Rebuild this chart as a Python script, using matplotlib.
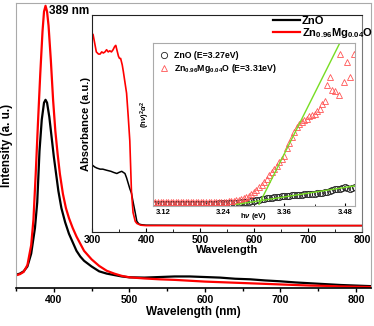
import matplotlib
matplotlib.use('Agg')
import matplotlib.pyplot as plt
from matplotlib.ticker import MultipleLocator

plt.rcParams['font.family'] = ['Liberation Sans', 'DejaVu Sans']
plt.rcParams['font.weight'] = 'bold'
plt.rcParams['mathtext.fontset'] = 'custom'
plt.rcParams['mathtext.rm'] = 'Liberation Sans:bold'
plt.rcParams['mathtext.bf'] = 'Liberation Sans:bold'
plt.rcParams['mathtext.it'] = 'Liberation Sans:bold:italic'

# PL spectra (main)
pl_zno_nm = [350, 355, 360, 365, 370, 375, 378, 381, 384, 387, 389, 391, 394, 397, 400, 403,
             406, 410, 415, 420, 425, 430, 435, 440, 450, 460, 470, 480, 490, 500, 520, 540,
             560, 580, 600, 620, 640, 660, 680, 700, 720, 740, 760, 780, 800, 820]
pl_zno = [0.046, 0.050, 0.058, 0.075, 0.12, 0.21, 0.30, 0.48, 0.59, 0.65, 0.66, 0.65, 0.60,
          0.53, 0.46, 0.40, 0.34, 0.28, 0.23, 0.19, 0.16, 0.13, 0.11, 0.095, 0.075, 0.058,
          0.050, 0.045, 0.040, 0.037, 0.036, 0.038, 0.040, 0.040, 0.038, 0.036, 0.032, 0.030,
          0.026, 0.023, 0.019, 0.016, 0.013, 0.010, 0.008, 0.006]
pl_mg_nm = [350, 355, 360, 365, 370, 373, 376, 379, 382, 385, 387, 389, 391, 393, 396, 399,
            402, 405, 408, 412, 416, 420, 425, 430, 435, 440, 445, 450, 460, 470, 480, 490,
            500, 520, 540, 560, 580, 600, 620, 640, 660, 680, 700, 720, 740, 760, 780, 800, 820]
pl_mg = [0.044, 0.048, 0.056, 0.08, 0.15, 0.24, 0.40, 0.58, 0.75, 0.90, 0.97, 0.99, 0.97,
         0.92, 0.80, 0.66, 0.55, 0.47, 0.40, 0.33, 0.28, 0.245, 0.21, 0.18, 0.155, 0.13,
         0.115, 0.10, 0.077, 0.060, 0.050, 0.042, 0.037, 0.033, 0.030, 0.028, 0.025, 0.022,
         0.020, 0.018, 0.016, 0.014, 0.012, 0.010, 0.008, 0.007, 0.005, 0.004, 0.003]

# absorbance (inset)
abs_zno_nm = [300, 305, 309, 315, 320, 327, 335, 340, 346, 350, 355, 358, 361, 364, 367, 370,
              373, 376, 380, 383, 387, 392, 400, 500, 600, 700, 800]
abs_zno = [0.31, 0.30, 0.295, 0.29, 0.29, 0.285, 0.28, 0.275, 0.27, 0.275, 0.28, 0.275, 0.27,
           0.25, 0.225, 0.20, 0.18, 0.14, 0.09, 0.05, 0.037, 0.034, 0.032, 0.031, 0.030, 0.030, 0.030]
abs_mg_nm = [300, 302, 305, 308, 312, 315, 318, 321, 324, 327, 330, 333, 336, 339, 342, 344,
             346, 349, 351, 353, 356, 358, 361, 364, 367, 370, 373, 376, 380, 383, 390, 400,
             500, 600, 700, 800]
abs_mg = [0.915, 0.91, 0.87, 0.83, 0.82, 0.82, 0.83, 0.825, 0.83, 0.84, 0.83, 0.835, 0.83,
          0.84, 0.855, 0.86, 0.84, 0.81, 0.80, 0.80, 0.77, 0.74, 0.69, 0.64, 0.535, 0.42,
          0.19, 0.09, 0.05, 0.04, 0.032, 0.03, 0.03, 0.03, 0.03, 0.03]

# Tauc plot (inner inset)
tauc_mg_ev = [3.100, 3.105, 3.110, 3.115, 3.120, 3.125, 3.130, 3.135, 3.140, 3.145, 3.150,
              3.155, 3.160, 3.165, 3.170, 3.175, 3.180, 3.185, 3.190, 3.195, 3.200, 3.205,
              3.210, 3.215, 3.220, 3.225, 3.230, 3.235, 3.240, 3.245, 3.250, 3.255, 3.260,
              3.265, 3.270, 3.275, 3.280, 3.285, 3.290, 3.295, 3.300, 3.305, 3.310, 3.315,
              3.320, 3.325, 3.330, 3.335, 3.340, 3.345, 3.350, 3.355, 3.360, 3.365, 3.370,
              3.375, 3.380, 3.385, 3.390, 3.395, 3.400, 3.405, 3.410, 3.415, 3.420, 3.425,
              3.430, 3.435, 3.440, 3.445, 3.450, 3.455, 3.460, 3.468, 3.470, 3.478, 3.484,
              3.490, 3.498]
tauc_mg = [0.012, 0.012, 0.012, 0.012, 0.012, 0.012, 0.012, 0.012, 0.012, 0.012, 0.012,
           0.012, 0.012, 0.012, 0.012, 0.012, 0.013, 0.013, 0.013, 0.013, 0.013, 0.014,
           0.014, 0.014, 0.014, 0.015, 0.015, 0.016, 0.017, 0.018, 0.020, 0.022, 0.024,
           0.027, 0.030, 0.035, 0.040, 0.047, 0.055, 0.067, 0.080, 0.092, 0.105, 0.122,
           0.140, 0.160, 0.180, 0.200, 0.220, 0.240, 0.260, 0.280, 0.300, 0.350, 0.380,
           0.420, 0.450, 0.480, 0.500, 0.510, 0.520, 0.530, 0.550, 0.555, 0.560, 0.580,
           0.590, 0.620, 0.640, 0.740, 0.790, 0.710, 0.700, 0.680, 0.930, 0.760, 0.880,
           0.790, 0.930]
tauc_zno_ev = [3.100, 3.105, 3.110, 3.115, 3.120, 3.125, 3.130, 3.135, 3.140, 3.145, 3.150,
               3.155, 3.160, 3.165, 3.170, 3.175, 3.180, 3.185, 3.190, 3.195, 3.200, 3.205,
               3.210, 3.215, 3.220, 3.225, 3.230, 3.235, 3.240, 3.245, 3.250, 3.255, 3.260,
               3.265, 3.270, 3.275, 3.280, 3.285, 3.290, 3.295, 3.300, 3.305, 3.310, 3.315,
               3.320, 3.325, 3.330, 3.335, 3.340, 3.345, 3.350, 3.355, 3.360, 3.365, 3.370,
               3.375, 3.380, 3.385, 3.390, 3.395, 3.400, 3.405, 3.410, 3.415, 3.420, 3.425,
               3.430, 3.435, 3.440, 3.445, 3.450, 3.455, 3.460, 3.465, 3.470, 3.475, 3.480,
               3.485, 3.490, 3.495, 3.500]
tauc_zno = [0.004, 0.004, 0.004, 0.004, 0.004, 0.004, 0.004, 0.004, 0.004, 0.004, 0.004,
            0.004, 0.004, 0.004, 0.004, 0.004, 0.004, 0.004, 0.005, 0.005, 0.005, 0.005,
            0.005, 0.005, 0.005, 0.005, 0.006, 0.006, 0.006, 0.007, 0.007, 0.008, 0.009,
            0.010, 0.011, 0.012, 0.014, 0.016, 0.018, 0.020, 0.022, 0.025, 0.028, 0.031,
            0.034, 0.037, 0.040, 0.042, 0.044, 0.046, 0.048, 0.050, 0.052, 0.054, 0.055,
            0.056, 0.058, 0.059, 0.060, 0.061, 0.062, 0.064, 0.066, 0.067, 0.066, 0.068,
            0.070, 0.072, 0.076, 0.080, 0.085, 0.092, 0.098, 0.094, 0.095, 0.100, 0.108,
            0.104, 0.098, 0.103, 0.105]
fit_mg_ev = [3.31, 3.47]
fit_mg = [0.0, 1.0]
fit_zno_ev = [3.265, 3.50]
fit_zno = [0.0, 0.115]

green = '#77dd22'
grey = '#aaaaaa'

fig = plt.figure(figsize=(3.74, 3.26), dpi=100)

# main PL axes
ax = fig.add_axes([0.043, 0.117, 0.949, 0.874])
l1, = ax.plot(pl_zno_nm, pl_zno, color='black', lw=1.6, label='ZnO')
l2, = ax.plot(pl_mg_nm, pl_mg, color='red', lw=1.6, label=r'Zn$_{0.96}$Mg$_{0.04}$O')
ax.set_xlim(350, 820)
ax.set_ylim(0, 1.0)
ax.set_yticks([])
ax.xaxis.set_major_locator(MultipleLocator(100))
ax.xaxis.set_minor_locator(MultipleLocator(50))
ax.tick_params(axis='x', which='major', direction='out', length=3, width=1, labelsize=7.5, pad=2)
ax.tick_params(axis='x', which='minor', direction='out', length=2, width=1)
for s in ['left', 'top', 'right']:
    ax.spines[s].set_color(grey)
ax.spines['bottom'].set_linewidth(1.2)
ax.set_xlabel('Wavelength (nm)', fontsize=8.5, fontweight='bold', labelpad=1)
ax.set_ylabel('Intensity (a. u.)', fontsize=8.5, fontweight='bold', labelpad=2)
ax.text(393, 0.97, '389 nm', fontsize=8.5, fontweight='bold', va='center', ha='left')

# inset absorbance
ia = fig.add_axes([0.246, 0.288, 0.722, 0.666])
ia.plot(abs_zno_nm, abs_zno, color='black', lw=1.1)
ia.plot(abs_mg_nm, abs_mg, color='red', lw=1.2)
ia.set_xlim(300, 800)
ia.set_ylim(0, 1.0)
ia.set_yticks([])
ia.xaxis.set_major_locator(MultipleLocator(100))
ia.xaxis.set_minor_locator(MultipleLocator(50))
ia.tick_params(axis='x', which='major', direction='in', length=3, labelsize=7.5, pad=2)
ia.tick_params(axis='x', which='minor', direction='in', length=2)
for s in ['left', 'top', 'bottom']:
    ia.spines[s].set_color('#222222')
ia.spines['right'].set_color('#777777')
ia.set_xlabel('Wavelength', fontsize=8, fontweight='bold', labelpad=0)
ia.set_ylabel('Absorbance (a.u.)', fontsize=8, fontweight='bold', labelpad=1)
# legend of the PL curves sits on top of the inset
ia.legend(handles=[l1, l2], loc='upper right', bbox_to_anchor=(1.04, 0.997), frameon=False,
          fontsize=8, handlelength=2.4, handletextpad=0.2, labelspacing=0.05,
          borderaxespad=0, borderpad=0)

# inner Tauc plot
it = fig.add_axes([0.409, 0.368, 0.540, 0.500])
it.plot(tauc_zno_ev, tauc_zno, ls='none', marker='o', ms=4.5, mfc='none', mec='#222222',
        mew=0.6, label='ZnO (E=3.27eV)')
it.plot(tauc_mg_ev, tauc_mg, ls='none', marker='^', ms=5, mfc='none', mec='#ff5555',
        mew=0.6, label=r'Zn$_{0.96}$Mg$_{0.04}$O (E=3.31eV)')
it.plot(fit_mg_ev, fit_mg, color=green, lw=1.0)
it.plot(fit_zno_ev, fit_zno, color=green, lw=1.0)
it.set_xlim(3.10, 3.50)
it.set_ylim(-0.01, 1.0)
it.set_yticks([])
it.set_xticks([3.12, 3.24, 3.36, 3.48])
it.set_xticklabels(['3.12', '3.24', '3.36', '3.48'])
it.xaxis.set_minor_locator(MultipleLocator(0.06))
it.tick_params(axis='x', which='major', direction='in', length=2.5, labelsize=5.5, pad=2)
it.tick_params(axis='x', which='minor', direction='in', length=1.5)
for s in it.spines.values():
    s.set_color(grey)
it.text(0.5, -0.065, r'h$\nu$ (eV)', transform=it.transAxes, fontsize=5.5,
        fontweight='bold', ha='center', va='center')
it.text(-0.04, 0.56, r'(h$\nu$)$^2\alpha^2$', transform=it.transAxes, fontsize=5.5,
        fontweight='bold', rotation=90, ha='center', va='center')
it.legend(loc='upper left', bbox_to_anchor=(0.0, 0.99), frameon=False, fontsize=6.3,
          handlelength=1.2, handletextpad=0.5, labelspacing=0.3, borderaxespad=0.3)

fig.savefig('out.png', dpi=100)
